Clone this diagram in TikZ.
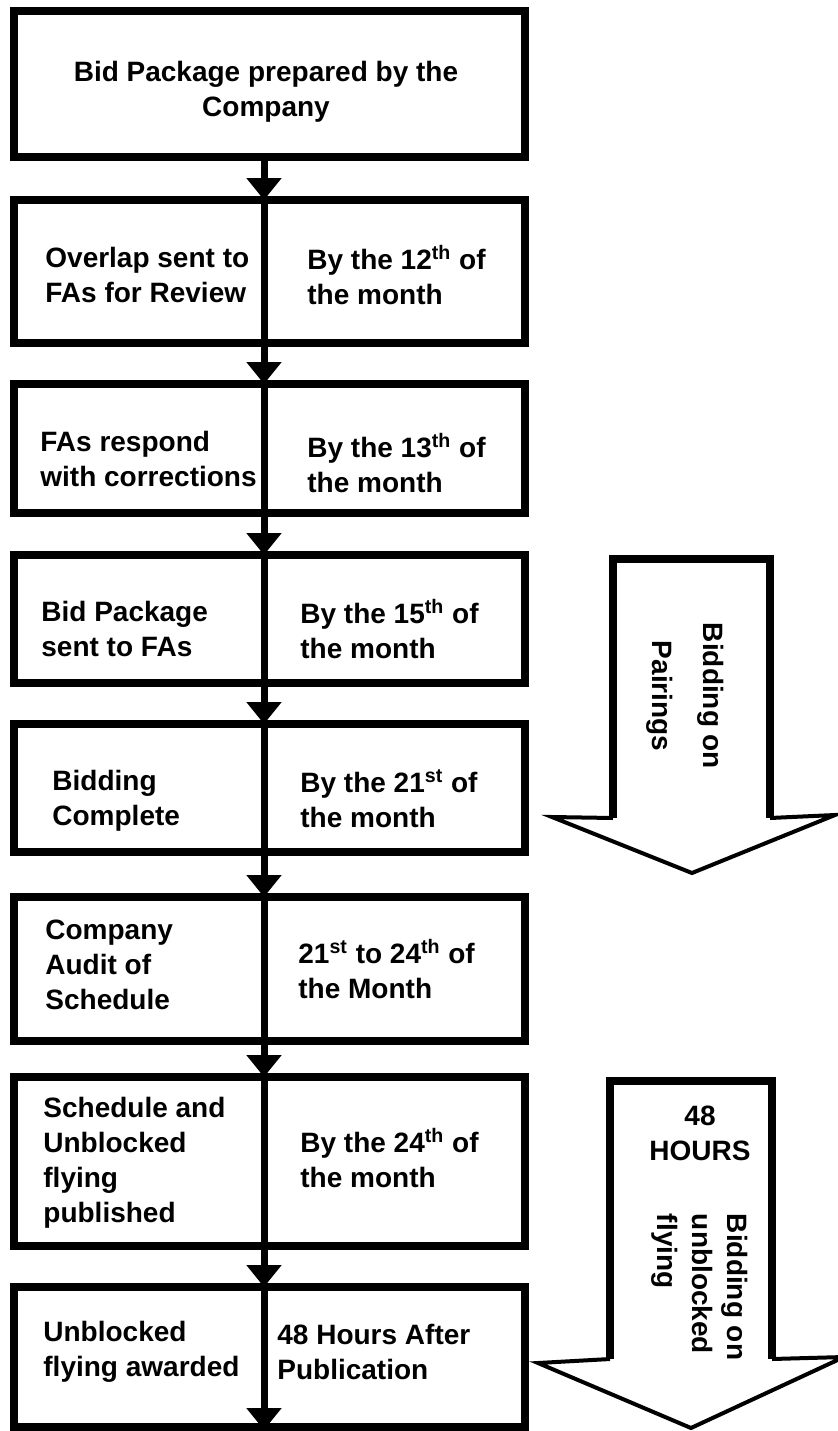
\documentclass[tikz,border=0pt]{standalone}
\usepackage{fontspec}
\setmainfont{Liberation Sans}
\usetikzlibrary{arrows.meta,fit}

\tikzset{
  rowbox/.style={draw, rectangle, line width=3.8pt, inner sep=0pt, outer sep=0pt},
  lbl/.style={font=\bfseries\fontsize{14}{17.5}\selectfont, align=left, inner sep=0pt},
  divline/.style={line width=3.5pt},
  flow/.style={line width=3.5pt, -{Triangle[length=11pt,width=17pt]}},
  shaftline/.style={line width=4pt, line join=miter},
  headline/.style={line width=2pt, line join=miter}
}

\begin{document}
\begin{tikzpicture}[x=0.5pt, y=-0.5pt]
        \useasboundingbox (0,0) rectangle (837,1431);

        % Rows
        \node[rowbox, fit={(14,11) (525,157)}] (row1) {};
        \node[rowbox, fit={(14,200) (525,343)}] (row2) {};
        \node[rowbox, fit={(14,384) (525,513)}] (row3) {};
        \node[rowbox, fit={(14,555) (525,683)}] (row4) {};
        \node[rowbox, fit={(14,724) (525,852)}] (row5) {};
        \node[rowbox, fit={(14,897) (525,1041)}] (row6) {};
        \node[rowbox, fit={(14,1077) (525,1246)}] (row7) {};
        \node[rowbox, fit={(14,1287) (525,1427)}] (row8) {};

        % Activities
        \node[lbl, align=center] (act1) at (266,92) {Bid Package prepared by the\\Company};
        \node[lbl, anchor=west] (act2) at (45,275) {Overlap sent to\\FAs for Review};
        \node[lbl, anchor=west] (act3) at (40,459) {FAs respond\\with corrections};
        \node[lbl, anchor=west] (act4) at (41,629) {Bid Package\\sent to FAs};
        \node[lbl, anchor=west] (act5) at (52,801) {Bidding\\Complete};
        \node[lbl, anchor=west] (act6) at (45,965) {Company\\Audit of\\Schedule};
        \node[lbl, anchor=west] (act7) at (43,1163) {Schedule and\\Unblocked\\flying\\published};
        \node[lbl, anchor=west] (act8) at (43,1352) {Unblocked\\flying awarded};

        % Deadlines
        \node[lbl, anchor=west] (due2) at (307,275) {By the 12\textsuperscript{th} of\\the month};
        \node[lbl, anchor=west] (due3) at (307,463) {By the 13\textsuperscript{th} of\\the month};
        \node[lbl, anchor=west] (due4) at (300,629) {By the 15\textsuperscript{th} of\\the month};
        \node[lbl, anchor=west] (due5) at (300,799) {By the 21\textsuperscript{st} of\\the month};
        \node[lbl, anchor=west] (due6) at (298,969) {21\textsuperscript{st} to 24\textsuperscript{th} of\\the Month};
        \node[lbl, anchor=west] (due7) at (300,1158) {By the 24\textsuperscript{th} of\\the month};
        \node[lbl, anchor=west] (due8) at (277,1352) {48 Hours After\\Publication};

        % Flow line
        \coordinate (div) at (264,0);
        \coordinate (bottom) at (264,1430);
        \foreach \a/\b in {1/2,2/3,3/4,4/5,5/6,6/7,7/8}
            \draw[flow] (div |- row\a.south) -- (div |- row\b.north);
        \foreach \r in {2,...,7}
            \draw[divline] (div |- row\r.north) -- (div |- row\r.south);
        \draw[flow] (div |- row8.north) -- (bottom);

        % Bidding on Pairings
        \draw[shaftline] (613,818) -- (613,559) -- (770,559) -- (770,818);
        \draw[headline] (613,818) -- (552,817) -- (692,873) -- (835,815) -- (770,818);
        \node[lbl, align=center, rotate=-90] (pairings) at (685,696) {Bidding on\\[8pt]Pairings};

        % Bidding on unblocked flying
        \draw[shaftline] (610,1359) -- (610,1081) -- (772,1081) -- (772,1359);
        \draw[headline] (610,1359) -- (538,1363) -- (691,1428) -- (844,1357) -- (772,1359);
        \node[lbl, align=center] (hours) at (700,1133) {48\\HOURS};
        \node[lbl, align=left, rotate=-90] (unblocked) at (700,1287) {Bidding on\\unblocked\\flying};
    \end{tikzpicture}
\end{document}
